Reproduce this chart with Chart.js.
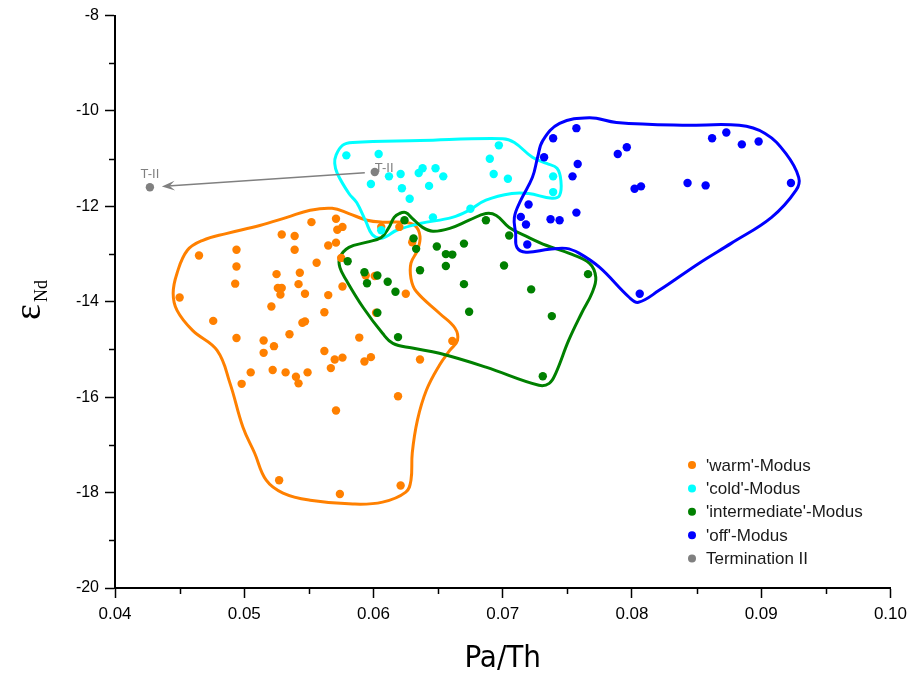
<!DOCTYPE html>
<html><head><meta charset="utf-8">
<script src="https://cdn.jsdelivr.net/npm/chart.js@4/dist/chart.umd.min.js"></script>
<style>html,body{margin:0;padding:0;background:#fff}#wrap{width:913px;height:675px}</style>
</head><body><div id="wrap"><canvas id="c" width="913" height="675"></canvas></div>
<script>
// ---- data ----
const seriesLabels = ["'warm'-Modus", "'cold'-Modus", "'intermediate'-Modus", "'off'-Modus", "Termination II"];
const xTicks = [0.04, 0.05, 0.06, 0.07, 0.08, 0.09, 0.10];
const yTicks = [-20, -18, -16, -14, -12, -10, -8];
const xMinorTicks = [0.045, 0.055, 0.065, 0.075, 0.085, 0.095];
const yMinorTicks = [-19, -17, -15, -13, -11, -9];
const xTitle = 'Pa/Th';
const yTitleMain = 'ε';
const yTitleSub = 'Nd';

const warmX = [0.0450,0.0465,0.0476,0.0494,0.0494,0.0493,0.0494,0.0515,0.0523,0.0529,0.0539,0.0539,0.0525,0.0543,0.0526,0.0529,0.0528,0.0542,0.0547,0.0521,0.0545,0.0547,0.0535,0.0552,0.0562,0.0515,0.0505,0.0498,0.0522,0.0532,0.0540,0.0542,0.0549,0.0562,0.0570,0.0576,0.0567,0.0589,0.0593,0.0598,0.0661,0.0636,0.0619,0.0571,0.0527,0.0574,0.0621,0.0571,0.0572,0.0576,0.0565,0.0571,0.0556,0.0565,0.0576,0.0575,0.0594,0.0601,0.0625,0.0606,0.0620,0.0630,0.0602];
const warmY = [-13.91,-13.03,-14.40,-12.91,-13.26,-13.62,-14.76,-14.81,-14.93,-12.59,-12.62,-12.91,-13.42,-13.39,-13.71,-13.71,-13.85,-13.63,-13.83,-14.10,-14.44,-14.41,-14.68,-12.33,-14.22,-15.07,-15.48,-15.72,-15.43,-15.48,-15.57,-15.71,-15.48,-15.03,-15.21,-15.17,-15.39,-14.75,-15.25,-15.16,-14.82,-15.21,-15.98,-16.28,-17.74,-18.03,-17.85,-12.26,-12.49,-12.43,-12.82,-12.76,-13.18,-13.86,-13.68,-13.08,-13.45,-13.46,-13.83,-12.43,-12.43,-12.75,-14.23];

const coldX = [0.0579,0.0604,0.0598,0.0612,0.0621,0.0622,0.0628,0.0635,0.0638,0.0648,0.0654,0.0643,0.0646,0.0606,0.0675,0.0690,0.0697,0.0693,0.0704,0.0739,0.0739];
const coldY = [-10.93,-10.90,-11.53,-11.37,-11.32,-11.62,-11.84,-11.30,-11.20,-11.20,-11.37,-11.57,-12.23,-12.50,-12.05,-11.00,-10.72,-11.32,-11.42,-11.37,-11.70];

const interX = [0.0580,0.0593,0.0595,0.0603,0.0611,0.0617,0.0603,0.0619,0.0624,0.0631,0.0633,0.0636,0.0649,0.0656,0.0661,0.0656,0.0670,0.0670,0.0674,0.0687,0.0701,0.0705,0.0722,0.0738,0.0731,0.0766];
const interY = [-13.15,-13.38,-13.61,-13.45,-13.58,-13.79,-14.23,-14.74,-12.29,-12.67,-12.89,-13.34,-12.84,-13.00,-13.01,-13.25,-12.78,-13.63,-14.21,-12.29,-13.24,-12.61,-13.74,-14.30,-15.56,-13.42];

const offX = [0.0757,0.0739,0.0732,0.0758,0.0754,0.0789,0.0796,0.0720,0.0714,0.0718,0.0737,0.0744,0.0757,0.0719,0.0802,0.0807,0.0843,0.0857,0.0862,0.0873,0.0885,0.0898,0.0923,0.0806];
const offY = [-10.36,-10.57,-10.97,-11.11,-11.37,-10.90,-10.76,-11.96,-12.22,-12.38,-12.27,-12.29,-12.13,-12.80,-11.63,-11.58,-11.51,-11.56,-10.57,-10.45,-10.70,-10.64,-11.51,-13.83];

const termX = [0.0427, 0.0601];
const termY = [-11.60, -11.28];
const termLabels = ['T-II', 'T-II'];

// outlines (envelopes) of each mode
const warmOutX = [0.0551,0.0568,0.0581,0.0595,0.0607,0.0622,0.0632,0.0636,0.0634,0.0629,0.0629,0.0633,0.0651,0.0663,0.0665,0.0659,0.0651,0.0641,0.0634,0.0630,0.0629,0.0625,0.0607,0.0584,0.0551,0.0530,0.0517,0.0508,0.0499,0.0489,0.0479,0.0460,0.0448,0.0445,0.0448,0.0456,0.0468,0.0486,0.0512,0.0533];
const warmOutY = [-12.08,-12.04,-12.15,-12.29,-12.33,-12.33,-12.40,-12.63,-12.92,-13.19,-13.51,-13.78,-14.24,-14.55,-14.81,-15.02,-15.33,-15.85,-16.48,-17.17,-17.74,-17.99,-18.20,-18.24,-18.16,-18.01,-17.74,-17.17,-16.63,-15.71,-15.02,-14.60,-14.18,-13.82,-13.40,-12.92,-12.71,-12.57,-12.40,-12.23];
const coldOutX = [0.0570,0.0571,0.0576,0.0584,0.0636,0.0700,0.0709,0.0723,0.0734,0.0742,0.0745,0.0744,0.0738,0.0720,0.0707,0.0687,0.0674,0.0661,0.0636,0.0618,0.0610,0.0605,0.0599,0.0594,0.0587,0.0581,0.0572];
const coldOutY = [-11.10,-10.93,-10.72,-10.66,-10.62,-10.58,-10.66,-10.97,-11.10,-11.20,-11.46,-11.77,-11.83,-11.73,-11.73,-11.87,-12.08,-12.23,-12.36,-12.50,-12.63,-12.67,-12.59,-12.31,-11.92,-11.73,-11.31];
const interOutX = [0.0620,0.0625,0.0630,0.0638,0.0646,0.0659,0.0674,0.0687,0.0695,0.0705,0.0720,0.0734,0.0751,0.0767,0.0772,0.0769,0.0761,0.0751,0.0741,0.0736,0.0728,0.0687,0.0651,0.0630,0.0615,0.0607,0.0592,0.0579,0.0574,0.0574,0.0581,0.0595,0.0606,0.0612,0.0616];
const interOutY = [-12.15,-12.13,-12.25,-12.44,-12.52,-12.46,-12.29,-12.15,-12.19,-12.44,-12.65,-12.82,-12.98,-13.19,-13.49,-13.82,-14.24,-14.81,-15.50,-15.71,-15.75,-15.37,-15.08,-14.97,-14.87,-14.66,-14.12,-13.55,-13.28,-13.07,-12.86,-12.75,-12.65,-12.44,-12.23];
const offOutX = [0.0731,0.0744,0.0767,0.0788,0.0839,0.0883,0.0903,0.0919,0.0929,0.0927,0.0908,0.0877,0.0852,0.0821,0.0805,0.0798,0.0775,0.0759,0.0749,0.0736,0.0718,0.0711,0.0710,0.0709,0.0714,0.0723,0.0727];
const offOutY = [-10.62,-10.26,-10.14,-10.24,-10.30,-10.30,-10.47,-10.89,-11.39,-11.66,-12.23,-12.77,-13.19,-13.76,-14.01,-13.91,-13.28,-12.98,-12.88,-12.90,-12.96,-12.86,-12.57,-12.23,-11.87,-11.39,-10.97];

// ---- styles ----
const colors = ['#FF8000', '#00FFFF', '#008000', '#0000FF', '#808080'];
const FONT = "'Liberation Sans', Arial, sans-serif";

function pts(xs, ys) { return xs.map((x, i) => ({ x: x, y: ys[i] })); }
function closedLoop(xs, ys) {
  const p = pts(xs, ys);
  const n = p.length;
  return [p[n - 1]].concat(p, [p[0], p[1]]);
}
function outlineDataset(xs, ys, color) {
  const n = xs.length;
  return {
    type: 'line', showLine: true, data: closedLoop(xs, ys),
    borderColor: color, borderWidth: 3, tension: 0.4, fill: false,
    pointRadius: 0, pointHoverRadius: 0, order: 10,
    segment: { borderColor: ctx => (ctx.p0DataIndex === 0 || ctx.p0DataIndex === n + 1) ? 'rgba(0,0,0,0)' : color }
  };
}
function pointDataset(label, xs, ys, color, order) {
  return { label: label, data: pts(xs, ys), backgroundColor: color, borderColor: color, borderWidth: 0,
           pointRadius: 4.2, pointHoverRadius: 4.2, showLine: false, order: order };
}

const extras = {
  id: 'extras',
  afterDatasetsDraw(chart) {
    const ctx = chart.ctx, xs = chart.scales.x, ys = chart.scales.y;
    const x1 = xs.getPixelForValue(termX[1]), y1 = ys.getPixelForValue(termY[1]);
    const x0 = xs.getPixelForValue(termX[0]), y0 = ys.getPixelForValue(termY[0]);
    const ang = Math.atan2(y0 - y1, x0 - x1);
    const sx = x1 + Math.cos(ang) * 10, sy = y1 + Math.sin(ang) * 10;
    const tx = x0 - Math.cos(ang) * 12, ty = y0 - Math.sin(ang) * 12;
    ctx.save();
    ctx.strokeStyle = '#808080'; ctx.fillStyle = '#808080'; ctx.lineWidth = 1.5;
    ctx.beginPath(); ctx.moveTo(sx, sy); ctx.lineTo(tx + Math.cos(ang) * -6, ty + Math.sin(ang) * -6); ctx.stroke();
    const L = 13, W = 5;
    const bx = tx - Math.cos(ang) * L, by = ty - Math.sin(ang) * L;
    const nx = -Math.sin(ang), ny = Math.cos(ang);
    const mx = tx - Math.cos(ang) * (L * 0.6), my = ty - Math.sin(ang) * (L * 0.6);
    ctx.beginPath(); ctx.moveTo(tx, ty);
    ctx.lineTo(bx + nx * W, by + ny * W); ctx.lineTo(mx, my); ctx.lineTo(bx - nx * W, by - ny * W);
    ctx.closePath(); ctx.fill();
    ctx.font = '13px ' + FONT; ctx.fillStyle = '#808080'; ctx.textBaseline = 'alphabetic';
    ctx.textAlign = 'center'; ctx.fillText(termLabels[0], x0, y0 - 9);
    ctx.textAlign = 'left'; ctx.fillText(termLabels[1], x1, y1);
    ctx.restore();
  },
  afterDraw(chart) {
    const ctx = chart.ctx, xs = chart.scales.x, ys = chart.scales.y, ca = chart.chartArea;
    ctx.save();
    ctx.strokeStyle = '#000'; ctx.lineWidth = 1.5;
    xMinorTicks.forEach(v => { const p = Math.round(xs.getPixelForValue(v)) + 0.5; ctx.beginPath(); ctx.moveTo(p, ca.bottom); ctx.lineTo(p, ca.bottom + 6); ctx.stroke(); });
    yMinorTicks.forEach(v => { const p = Math.round(ys.getPixelForValue(v)) + 0.5; ctx.beginPath(); ctx.moveTo(ca.left, p); ctx.lineTo(ca.left - 6, p); ctx.stroke(); });
    ctx.fillStyle = '#000';
    ctx.font = "31px 'Liberation Sans Narrow', 'DejaVu Sans Condensed', " + FONT;
    ctx.textAlign = 'center'; ctx.textBaseline = 'middle';
    ctx.fillText(xTitle, (ca.left + ca.right) / 2, 659);
    ctx.translate(34, 300); ctx.rotate(-Math.PI / 2);
    ctx.font = "38px 'Liberation Serif', 'DejaVu Serif', serif";
    ctx.textAlign = 'left'; ctx.textBaseline = 'alphabetic';
    const w = ctx.measureText(yTitleMain).width;
    ctx.font = "18px 'Liberation Serif', 'DejaVu Serif', serif";
    const w2 = ctx.measureText(yTitleSub).width;
    const start = -(w + w2 + 2) / 2;
    ctx.font = "38px 'Liberation Serif', 'DejaVu Serif', serif";
    ctx.fillText(yTitleMain, start, 6);
    ctx.font = "18px 'Liberation Serif', 'DejaVu Serif', serif";
    ctx.fillText(yTitleSub, start + w + 2, 13);
    ctx.restore();
    ctx.save();
    ctx.font = '17px ' + FONT; ctx.textAlign = 'left'; ctx.textBaseline = 'middle';
    seriesLabels.forEach((lab, i) => {
      const yy = 465 + i * 23.4;
      ctx.fillStyle = colors[i]; ctx.beginPath(); ctx.arc(692, yy, 4, 0, Math.PI * 2); ctx.fill();
      ctx.fillStyle = '#1a1a1a'; ctx.fillText(lab, 706, yy + 1);
    });
    ctx.restore();
  }
};

const axisCommon = {
  type: 'linear',
  grid: { display: true, drawOnChartArea: false, drawTicks: true, tickLength: 10, tickWidth: 1.5, tickColor: '#000' },
  border: { display: true, color: '#000', width: 2 }
};

new Chart(document.getElementById('c'), {
  type: 'scatter',
  data: {
    datasets: [
      pointDataset(seriesLabels[4], termX, termY, colors[4], 0),
      pointDataset(seriesLabels[3], offX, offY, colors[3], 1),
      pointDataset(seriesLabels[2], interX, interY, colors[2], 2),
      pointDataset(seriesLabels[1], coldX, coldY, colors[1], 3),
      pointDataset(seriesLabels[0], warmX, warmY, colors[0], 4),
      outlineDataset(offOutX, offOutY, colors[3]),
      outlineDataset(interOutX, interOutY, colors[2]),
      outlineDataset(coldOutX, coldOutY, colors[1]),
      outlineDataset(warmOutX, warmOutY, colors[0])
    ]
  },
  options: {
    responsive: false, animation: false, devicePixelRatio: 1,
    layout: { padding: { left: 0, right: 21, top: 15, bottom: 0 } },
    plugins: { legend: { display: false }, tooltip: { enabled: false } },
    scales: {
      x: Object.assign({}, axisCommon, {
        min: 0.04, max: 0.10,
        afterBuildTicks: s => { s.ticks = xTicks.map(v => ({ value: v })); },
        afterFit: s => { s.height = 87; },
        ticks: { autoSkip: false, maxRotation: 0, padding: 6, color: '#000', font: { family: FONT, size: 17 }, callback: v => Number(v).toFixed(2) }
      }),
      y: Object.assign({}, axisCommon, {
        min: -20, max: -8,
        afterBuildTicks: s => { s.ticks = yTicks.map(v => ({ value: v })); },
        afterFit: s => { s.width = 115; },
        ticks: { autoSkip: false, padding: 6, color: '#000', font: { family: FONT, size: 16 }, callback: v => String(v) }
      })
    }
  },
  plugins: [extras]
});
</script>
</body></html>
